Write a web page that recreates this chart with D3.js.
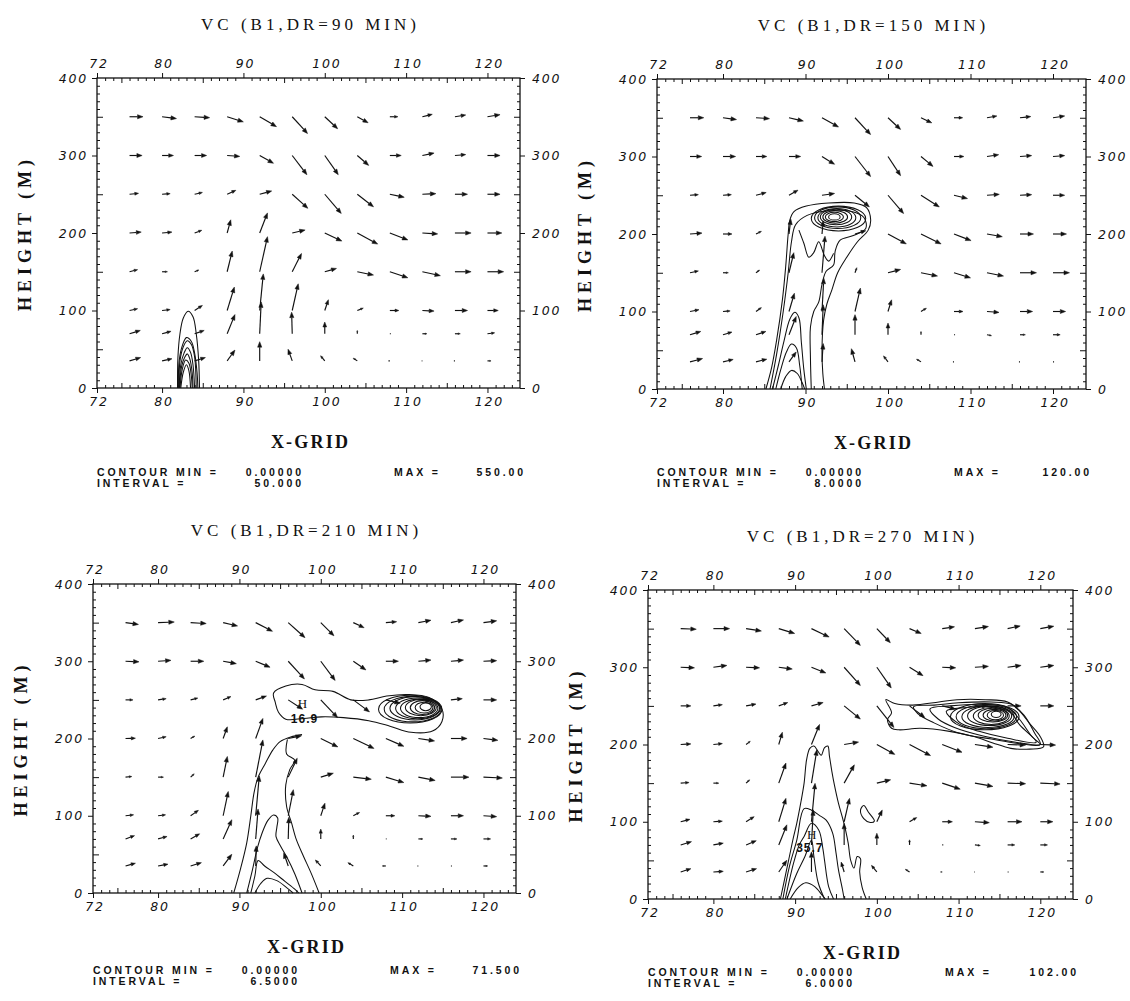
<!DOCTYPE html>
<html><head><meta charset="utf-8">
<script src="https://cdn.jsdelivr.net/npm/d3@7"></script>
<style>body{margin:0;background:#fff}</style>
</head><body>
<svg id="c" width="1130" height="1001"></svg>
<script>
// ---------------- DATA ----------------
const titles = ["VC (B1,DR=90 MIN)", "VC (B1,DR=150 MIN)", "VC (B1,DR=210 MIN)", "VC (B1,DR=270 MIN)"];
const xTicks = [72, 80, 90, 100, 110, 120];
const yTicks = [0, 100, 200, 300, 400];
const xGrid = [76, 80, 84, 88, 92, 96, 100, 104, 108, 112, 116, 120];
const zLevels = [350, 300, 250, 200, 150, 100, 70, 35];
const contourMin = ["0.00000", "0.00000", "0.00000", "0.00000"];
const contourMax = ["550.00", "120.00", "71.500", "102.00"];
const contourInterval = ["50.000", "8.0000", "6.5000", "6.0000"];

// horizontal (u) and vertical (w) wind components, rows = zLevels, cols = xGrid
const u90 = [
 [4.5,4.8,5.0,5.4,5.6,5.1,4.3,3.6,2.7,3.3,3.6,4.2],
 [4.2,3.8,4.0,4.2,4.6,4.9,4.5,3.8,3.8,3.9,3.6,4.2],
 [3.0,2.7,2.6,2.9,4.0,5.2,5.5,5.4,4.8,4.5,4.2,4.2],
 [3.9,3.3,2.4,1.2,2.6,4.3,5.7,6.8,6.0,5.1,5.4,4.8],
 [2.7,1.8,1.4,1.7,2.6,3.1,3.9,5.4,6.0,6.0,5.4,5.4],
 [2.7,2.7,2.6,2.4,1.2,2.0,1.2,2.0,3.0,3.9,4.2,3.6],
 [3.6,3.0,3.2,2.6,0.5,-0.2,0,0,0.6,1.5,1.8,2.4],
 [3.7,3.3,3.6,2.6,0,-1.4,-1.4,-1.4,-0.8,-0.4,-0.6,1.2]];
const w90 = [
 [0,-0.6,-0.3,-1.7,-3.3,-5.6,-4.0,-2.0,0,0.8,0.6,0.7],
 [0,0,0,-0.3,-2.6,-6.4,-6.4,-3.3,0,0.8,0.3,0],
 [0.3,0.2,0.6,1.3,1.1,-4.7,-6.4,-4.2,-1.0,0.2,0,0],
 [0.3,0.3,0.9,4.4,6.7,1.0,-2.7,-3.7,-2.3,-0.3,0,0],
 [0.7,0,0.6,6.9,11.7,6.1,1.1,-1.1,-2.0,-1.3,0,0],
 [0.6,0.3,1.7,7.8,12.2,8.9,3.6,0.8,0,-0.2,0,0],
 [1.1,0.8,1.1,6.4,10.6,7.2,3.9,1.1,0,0,0,0.3],
 [1.1,0.7,1.1,3.6,6.4,3.9,1.7,0.9,0,0,0,0]];

const u150 = [
 [4.6,4.5,4.5,4.8,5.5,5.2,4.2,3.6,2.9,3.3,3.6,3.9],
 [3.9,4.2,3.6,3.9,4.2,5.2,4.2,4.0,3.3,3.9,3.9,3.9],
 [2.8,2.8,3.4,3.0,4.2,4.8,5.2,6.1,4.5,4.1,3.9,3.9],
 [4.0,3.0,1.8,0.6,0.4,3.6,6.1,6.7,5.7,5.1,4.5,4.5],
 [2.8,1.8,1.2,1.6,1.0,0.6,4.2,5.5,5.5,5.5,5.5,5.5],
 [3.0,2.4,1.8,1.8,0.6,1.8,1.2,1.8,3.0,4.0,4.2,4.2],
 [3.6,3.0,3.3,2.4,0.4,0,0,0,0.6,1.5,1.8,2.4],
 [4.2,3.4,3.6,2.4,0.4,-1.2,-1.5,-1.5,-0.6,0,-0.6,0.6]];
const w150 = [
 [0,-0.6,-0.3,-1.1,-3.1,-5.6,-3.9,-1.7,0,0.6,0.4,0.6],
 [0,0,0,0,-2.6,-6.7,-6.4,-3.3,0,0.6,0.3,0.3],
 [0.2,0.2,0.9,1.7,0.6,-3.9,-6.1,-3.9,-1.1,0.3,0.2,0],
 [0.3,0,0.9,5.0,4.4,1.1,-3.3,-3.3,-2.2,-0.9,0,0],
 [0.6,0,0.9,6.7,12.2,1.7,1.1,-1.1,-1.7,-1.1,0,0],
 [0.6,0.2,1.3,6.1,11.1,7.8,3.9,1.1,0,-0.3,0,0],
 [1.1,0.9,1.1,6.1,10.0,6.7,3.9,1.1,0,-0.3,0,0],
 [1.1,0.8,0.9,3.3,6.1,4.4,2.0,0.9,0,0,0,0]];

const u210 = [
 [4.3,5.4,5.2,4.8,5.6,5.6,4.4,3.6,3.6,4.2,4.2,4.4],
 [4.5,4.3,4.4,4.4,4.8,5.4,4.8,4.2,4.2,4.2,4.2,4.4],
 [2.5,2.7,2.4,2.6,3.6,4.8,5.6,5.4,4.8,4.2,3.8,4.4],
 [3.3,2.7,1.4,1.4,2.4,4.4,5.7,6.9,6.0,5.4,5.4,4.8],
 [2.1,1.8,1.2,1.4,2.4,3.0,4.2,6.0,6.0,5.6,6.0,6.3],
 [2.7,2.5,2.6,1.7,1.2,1.7,1.4,2.1,3.0,4.2,4.2,4.4],
 [3.0,3.0,3.0,2.9,0.8,0.2,0,0,0.4,1.5,2.0,2.4],
 [3.3,3.3,3.6,2.9,0.2,-1.5,-1.8,-1.8,-1.2,-0.6,0.6,1.4]];
const w210 = [
 [-0.6,0.2,-0.3,-1.1,-2.9,-5.0,-4.4,-1.7,0.3,0.8,0.9,0.6],
 [-0.2,0.3,0,-0.8,-2.0,-5.9,-6.4,-2.9,0,0.4,0.4,0.2],
 [0,0.4,0.6,1.1,1.3,-3.1,-5.9,-4.0,-1.1,0,0.4,0],
 [0.1,0.6,0.8,3.9,6.7,0.9,-2.8,-3.3,-2.6,-0.8,0,-0.6],
 [0.2,0,1.1,6.9,12.4,6.3,1.3,-0.7,-1.8,-1.1,0,-0.3],
 [0.3,0.3,1.8,8.1,13.3,8.7,4.2,1.1,0,-0.2,0,-0.3],
 [1.1,0.8,1.7,6.4,10.0,7.2,3.3,1.3,0,0,0,0],
 [0.9,0.6,1.1,3.9,6.7,4.4,2.0,1.1,0,0,0,0]];

const u270 = [
 [5.2,5.4,5.1,5.3,5.9,5.4,4.5,3.9,4.1,4.5,4.2,4.5],
 [4.6,4.5,4.5,4.5,4.8,5.4,4.8,4.5,4.5,4.5,4.5,4.5],
 [3.4,3.0,3.3,3.0,3.9,5.4,5.7,5.1,4.5,4.3,4.5,4.5],
 [3.4,3.0,1.4,1.2,2.7,4.8,6.0,7.0,6.6,6.0,6.0,5.1],
 [2.8,1.8,1.2,2.4,1.8,3.4,4.6,5.8,6.0,6.0,6.0,6.6],
 [3.1,3.0,2.7,2.4,1.2,1.8,1.8,2.4,3.4,4.8,4.8,4.2],
 [3.6,3.3,3.4,2.7,0.6,0,0,0,0.6,1.8,2.4,2.4],
 [3.4,3.3,3.5,2.7,0,-1.0,-1.8,-1.4,-1.0,-0.4,0.6,1.2]];
const w270 = [
 [-0.2,0,-0.8,-1.6,-2.8,-5.6,-4.7,-1.6,0.6,0.7,0.9,0.8],
 [-0.2,0.6,-0.2,-0.6,-1.9,-6.1,-6.9,-2.8,-0.2,0.3,0.6,0.6],
 [0,0.4,0.6,1.1,1.1,-4.4,-7.2,-3.9,-1.1,0,0,0],
 [0.2,0.3,1.1,4.1,6.7,0.8,-3.3,-3.7,-2.6,-0.9,-0.2,-0.2],
 [0.2,0,1.1,6.7,11.1,6.1,1.1,-0.9,-2.0,-1.1,-0.2,-0.3],
 [0.8,0.2,1.7,7.8,12.8,7.8,3.9,1.4,0,-0.3,0,0],
 [1.1,0.6,1.4,6.7,11.7,7.2,3.9,1.7,0,-0.2,0,0],
 [1.1,0.2,1.1,3.9,6.7,3.3,2.2,0.9,0,0,0,0]];

// contour lines: [x-grid, height]
const lines90 = [
 [[81.9,0],[81.95,40],[82.2,70],[82.6,90],[83.2,99],[83.8,92],[84.2,70],[84.5,35],[84.6,0]],
 [[82.0,0],[82.1,35],[82.5,55],[83.0,65],[83.6,60],[84.0,45],[84.3,20],[84.4,0]],
 [[82.05,0],[82.2,35],[82.6,53],[83.1,61],[83.6,56],[84.0,40],[84.2,0]],
 [[82.1,0],[82.3,30],[82.7,45],[83.1,52],[83.5,46],[83.8,30],[84.0,0]],
 [[82.15,0],[82.4,28],[82.8,40],[83.1,44],[83.4,38],[83.7,20],[83.8,0]],
 [[82.2,0],[82.5,25],[82.9,36],[83.3,32],[83.6,15],[83.7,0]],
 [[82.3,0],[82.6,20],[83.0,30],[83.3,22],[83.5,0]]];
const lines150 = [
 [[85.2,0],[85.9,28],[86.5,63],[87.2,115],[87.6,158],[87.9,200],[88.1,218],[88.6,229],[90.1,236],[92.8,240],[95.9,240],[97.4,234],[97.9,218],[97.6,205],[96.3,190],[95.0,170],[93.9,150],[93.2,128],[92.6,110],[92.2,89],[92.0,50],[92.1,20],[92.3,0]],
 [[85.7,0],[86.5,45],[87.3,100],[87.9,150],[88.3,190],[88.8,212],[90.2,224],[92.8,230],[95.6,229],[97.1,221],[97.3,207],[95.8,198],[94.2,192],[93.6,178],[93.4,160],[92.5,152],[92.0,135],[91.6,112],[91.0,100],[90.6,80],[90.6,40],[90.7,0]],
 [[89.2,205],[89.8,188],[90.4,170],[91.0,176],[91.6,190],[92.3,172],[92.8,165],[93.4,175]],
 [[86.0,0],[86.7,30],[87.4,62],[88.1,90],[88.7,99],[89.2,92],[89.5,60],[89.8,25],[90.1,0]],
 [[86.4,0],[87.0,25],[87.7,48],[88.3,58],[88.9,53],[89.3,30],[89.6,0]],
 [[87.0,0],[87.6,16],[88.3,24],[89.0,20],[89.6,8],[89.9,0]]];
const lines210 = [
 [[89.3,0],[90.1,30],[90.9,65],[91.4,100],[91.8,130],[92.3,150],[93.2,168],[94.1,185],[95.0,196],[96.3,202],[97.7,205]],
 [[95.9,199],[95.8,180],[96.8,172],[96.2,160],[95.7,140],[95.8,112],[96.4,91],[97.0,69],[97.9,47],[98.8,26],[99.8,0]],
 [[90.9,0],[91.6,30],[92.2,58],[92.8,78],[93.5,94],[94.2,101],[94.7,97],[94.6,85],[94.5,73],[95.1,60],[95.9,45],[96.8,25],[97.7,0]],
 [[91.4,0],[91.9,22],[92.3,42],[93.1,35],[94.3,26],[95.6,15],[96.8,5],[97.3,0]],
 [[91.9,0],[92.6,12],[93.4,19],[94.6,16],[95.8,7],[96.6,0]],
 [[94.2,259],[95.7,268],[97.7,270],[99.3,263],[101.5,261],[103.7,250],[105.9,250],[108.1,255],[110.7,257],[113.3,253],[114.9,238],[114.9,222],[113.8,210],[111.1,208],[108.5,216],[105.9,223],[102.8,227],[100.1,228],[97.9,226],[95.7,225],[94.8,234],[94.4,247],[94.2,259]]];
const lines270 = [
 [[88.2,0],[88.8,30],[89.3,55],[89.8,80],[90.2,98],[90.7,125],[91.1,150],[91.4,180],[91.8,195],[92.3,198],[92.8,191],[93.2,186],[93.6,196],[94.0,198],[94.2,185],[94.5,165],[94.8,148],[95.3,124],[95.8,105],[96.2,88],[96.5,72],[96.8,50],[97.2,40],[97.6,55],[98.0,52],[97.9,35],[98.2,15],[98.7,0]],
 [[88.5,0],[89.3,42],[90.2,76],[91.1,117],[92.0,115],[93.0,108],[93.8,102],[94.6,85],[95.0,60],[95.3,38],[95.8,12],[96.0,0]],
 [[88.8,0],[89.8,46],[90.5,70],[91.1,81],[92.0,98],[92.9,89],[93.4,65],[93.6,50],[94.1,16],[94.7,0]],
 [[89.0,0],[90.2,33],[91.2,55],[92.0,76],[92.3,55],[92.8,22],[93.6,0]],
 [[89.4,0],[90.4,15],[91.3,21],[92.4,16],[93.3,5],[93.7,0]],
 [[98.0,115],[98.4,121],[99.0,112],[99.7,101],[99.2,99],[98.4,104],[98.0,115]],
 [[101.1,258],[102.2,253],[104.4,251],[107.6,255],[109.8,258],[113.3,258],[116.0,255],[117.3,245],[118.7,227],[120.0,210],[120.4,197],[118.7,194],[116.4,195],[114.2,202],[112.0,210],[108.9,217],[105.3,221],[102.7,219],[101.8,221],[101.3,232],[101.8,241],[101.1,258]],
 [[104.5,249],[107,251],[110,254],[114,255],[116.5,252],[118,238],[119.3,215],[120,200],[117.5,201],[114,207],[110,215],[107,228],[105,240],[104.5,249]],
 [[106.5,246],[109,250],[113,252],[116,248],[117.5,232],[119,210],[120,200],[117,203],[113,211],[109.5,222],[107.5,233],[106.5,246]],
 [[108.5,243],[111,248],[114,249],[116.3,242],[117.5,225],[119.5,203],[116,208],[112.5,217],[110,227],[108.5,243]]];

// concentric closed contours of the eddies: [x centre, h centre, x half-width, h half-height]
const rings90 = [];
const rings150 = [[94.0,220,3.3,16],[93.9,221,2.8,14],[93.8,221,2.3,12],[93.7,222,1.9,10],[93.6,222,1.5,8],[93.5,222,1.1,6],[93.5,222,0.7,4]];
const rings210 = [[111.0,238,3.9,18],[111.3,238,3.5,16.5],[111.6,239,3.1,15],[111.9,239,2.7,13.5],[112.1,239,2.3,12],[112.3,240,1.9,10.5],[112.5,240,1.5,9],[112.7,240,1.1,7],[112.9,241,0.7,5]];
const rings270 = [[113.2,236,4.2,17],[113.4,236,3.7,15.5],[113.6,236,3.2,14],[113.8,237,2.7,12.5],[114.0,237,2.2,11],[114.2,238,1.8,9],[114.4,238,1.4,7.5],[114.5,238,1.0,6],[114.6,239,0.6,4]];

// extremum labels
const marks90 = [], marks150 = [];
const marks210 = [["H", 97.8, 246], ["16.9", 98.0, 227]];
const marks270 = [["H", 92.1, 84], ["35.7", 91.8, 67]];

// ---------------- LAYOUT ----------------
const layout = [
 {x0:97, x1:520, y0:78, y1:388, ty:476},
 {x0:657, x1:1086, y0:79, y1:389, ty:476},
 {x0:93, x1:516, y0:584, y1:893, ty:974},
 {x0:648, x1:1073, y0:590, y1:899, ty:975.5}];
const panels = [
 {u:u90, w:w90, lines:lines90, rings:rings90, marks:marks90},
 {u:u150, w:w150, lines:lines150, rings:rings150, marks:marks150},
 {u:u210, w:w210, lines:lines210, rings:rings210, marks:marks210},
 {u:u270, w:w270, lines:lines270, rings:rings270, marks:marks270}];

const svg = d3.select("#c");
const INK = "#111";
const SERIF = "'Liberation Serif','DejaVu Serif',serif";
const SANS = "'DejaVu Sans','Liberation Sans',sans-serif";
const vscale = d3.scaleLinear().domain([0, 1]).range([0, 3]); // px per m/s

panels.forEach((p, i) => {
  const L = layout[i];
  const g = svg.append("g");
  const x = d3.scaleLinear().domain([72, 124]).range([L.x0, L.x1]);
  const y = d3.scaleLinear().domain([0, 400]).range([L.y1, L.y0]);

  // ---- axes ----
  const clean = s => { s.select(".domain").remove(); s.selectAll("line").attr("stroke", INK).attr("stroke-width", 1); };
  const minorX = d3.range(73, 124).filter(v => v % 5 !== 0);
  const midX = d3.range(75, 124, 5).filter(v => v % 10 !== 0);
  const minorY = d3.range(10, 400, 10).filter(v => v % 50 !== 0);
  const midY = [50, 150, 250, 350];
  const tickStyle = s => s.selectAll("text").attr("font-family", SANS).attr("font-style", "italic")
      .attr("font-size", 12.5).attr("letter-spacing", 1.8).attr("fill", INK);

  [["b", L.y1], ["t", L.y0]].forEach(([side, yy]) => {
    const ax = side === "b" ? d3.axisBottom : d3.axisTop;
    g.append("g").attr("transform", `translate(0,${yy})`).call(ax(x).tickValues(minorX).tickSize(-3).tickFormat("")).call(clean);
    g.append("g").attr("transform", `translate(0,${yy})`).call(ax(x).tickValues(midX).tickSize(-5).tickFormat("")).call(clean);
    g.append("g").attr("transform", `translate(0,${yy})`)
      .call(ax(x).tickValues(xTicks).tickSize(5).tickPadding(side === "b" ? 4 : 5).tickFormat(d3.format("d")))
      .call(clean).call(tickStyle).call(s => s.selectAll("text").attr("dx", 1.5));
  });
  [["l", L.x0], ["r", L.x1]].forEach(([side, xx]) => {
    const ax = side === "l" ? d3.axisLeft : d3.axisRight;
    g.append("g").attr("transform", `translate(${xx},0)`).call(ax(y).tickValues(minorY).tickSize(-3).tickFormat("")).call(clean);
    g.append("g").attr("transform", `translate(${xx},0)`).call(ax(y).tickValues(midY).tickSize(-6).tickFormat("")).call(clean);
    g.append("g").attr("transform", `translate(${xx},0)`)
      .call(ax(y).tickValues(yTicks).tickSize(5).tickPadding(side === "l" ? 4 : 7).tickFormat(d3.format("d")))
      .call(clean).call(tickStyle);
  });
  g.append("rect").attr("x", L.x0).attr("y", L.y0).attr("width", L.x1 - L.x0).attr("height", L.y1 - L.y0)
    .attr("fill", "none").attr("stroke", INK).attr("stroke-width", 1.3);

  // ---- titles ----
  const cx = (L.x0 + L.x1) / 2;
  g.append("text").attr("x", cx + 2).attr("y", L.y0 - 48).attr("text-anchor", "middle")
    .attr("font-family", SERIF).attr("font-size", 17).attr("letter-spacing", 4).attr("fill", INK)
    .text(titles[i]);
  g.append("text").attr("x", cx + 2).attr("y", L.y1 + 60).attr("text-anchor", "middle")
    .attr("font-family", SERIF).attr("font-size", 18).attr("font-weight", "bold").attr("letter-spacing", 2.2).attr("fill", INK)
    .text("X-GRID");
  const hy = (L.y0 + L.y1) / 2;
  g.append("text").attr("transform", `translate(${L.x0 - 66},${hy}) rotate(-90)`).attr("text-anchor", "middle")
    .attr("font-family", SERIF).attr("font-size", 18).attr("font-weight", "bold").attr("letter-spacing", 5).attr("fill", INK)
    .text("HEIGHT (M)");

  // ---- contour info text ----
  const info = (tx, ty, s, anchor) => g.append("text").attr("x", tx).attr("y", ty).attr("text-anchor", anchor)
    .attr("font-family", "'Liberation Sans',Arial,sans-serif").attr("font-weight", "bold").attr("font-size", 10.5)
    .attr("letter-spacing", 2.9).attr("fill", INK).text(s);
  info(L.x0, L.ty, "CONTOUR MIN =", "start");
  info(L.x0 + 207, L.ty, contourMin[i], "end");
  info(L.x0 + 297, L.ty, "MAX =", "start");
  info(L.x1 + 6, L.ty, contourMax[i], "end");
  info(L.x0, L.ty + 11, "INTERVAL =", "start");
  info(L.x0 + 207, L.ty + 11, contourInterval[i], "end");

  // ---- contours ----
  const cg = g.append("g").attr("fill", "none").attr("stroke", INK).attr("stroke-width", 1.05);
  p.lines.forEach(pts => {
    const closed = pts.length > 2 && pts[0][0] === pts[pts.length - 1][0] && pts[0][1] === pts[pts.length - 1][1];
    const data = closed ? pts.slice(0, -1) : pts;
    const line = d3.line().x(d => x(d[0])).y(d => y(d[1]))
      .curve(closed ? d3.curveCatmullRomClosed.alpha(0.5) : d3.curveCatmullRom.alpha(0.5));
    cg.append("path").attr("d", line(data));
  });
  cg.selectAll("ellipse").data(p.rings).join("ellipse")
    .attr("cx", d => x(d[0])).attr("cy", d => y(d[1]))
    .attr("rx", d => x(d[0] + d[2]) - x(d[0])).attr("ry", d => y(d[1]) - y(d[1] + d[3]));

  // ---- vectors ----
  const vg = g.append("g");
  zLevels.forEach((z, r) => {
    xGrid.forEach((xv, c) => {
      const u = p.u[r][c], w = p.w[r][c];
      const x0 = x(xv), y0 = y(z);
      const dx = vscale(u), dy = -vscale(w);
      const len = Math.hypot(dx, dy);
      if (len < 0.6) return;
      const ux = dx / len, uy = dy / len;
      const hl = Math.min(5.5, len * 0.42), hw = hl * 0.38;
      const x1 = x0 + dx, y1 = y0 + dy;
      const bx = x1 - ux * hl, by = y1 - uy * hl;
      vg.append("line").attr("x1", x0).attr("y1", y0).attr("x2", bx).attr("y2", by)
        .attr("stroke", INK).attr("stroke-width", 1.15);
      if (len > 3) {
        vg.append("path").attr("d", `M${x1},${y1}L${bx - uy * hw},${by + ux * hw}L${bx + uy * hw},${by - ux * hw}Z`)
          .attr("fill", INK).attr("stroke", INK).attr("stroke-width", 0.5);
      }
    });
  });

  // ---- extremum marks ----
  p.marks.forEach(([t, mx, mh]) => {
    g.append("text").attr("x", x(mx)).attr("y", y(mh) + 5).attr("text-anchor", "middle")
      .attr("font-family", t === "H" ? SERIF : "'Liberation Sans',Arial,sans-serif")
      .attr("font-weight", t === "H" ? "normal" : "bold")
      .attr("font-size", t === "H" ? 13 : 12).attr("letter-spacing", 1).attr("fill", INK).text(t);
  });
});
</script>
</body></html>
